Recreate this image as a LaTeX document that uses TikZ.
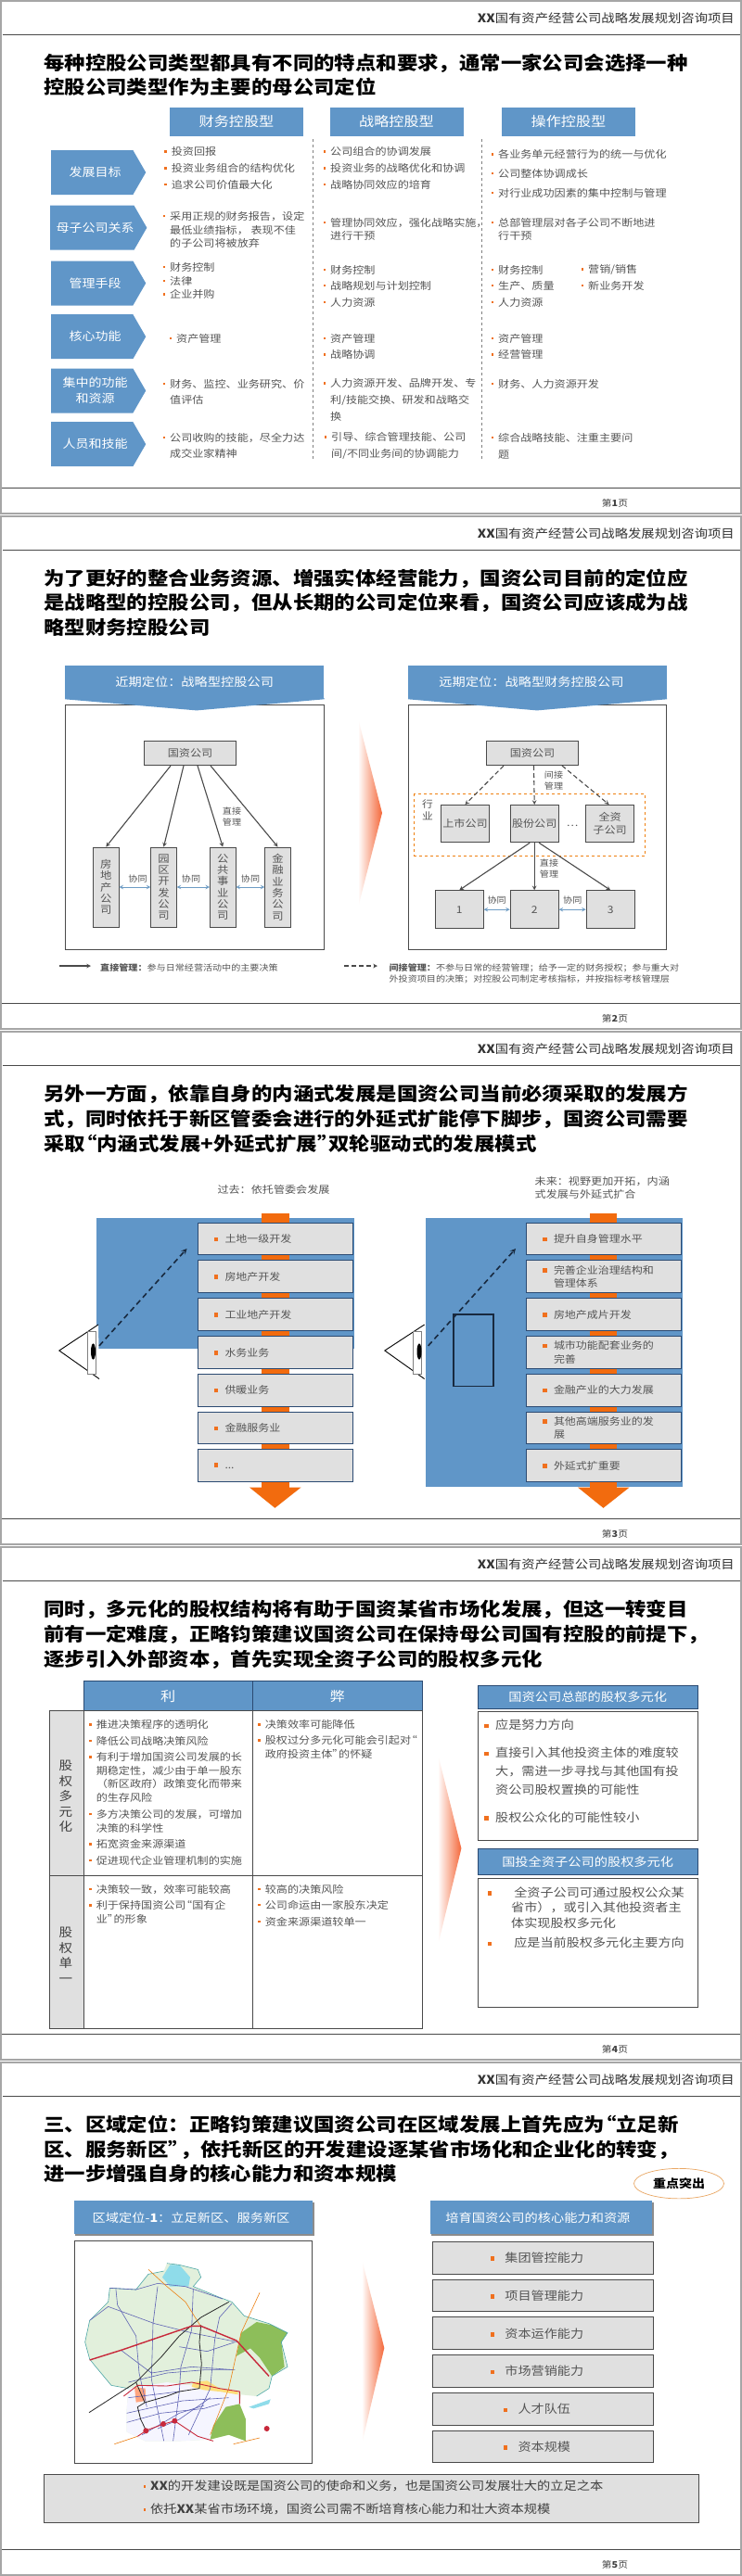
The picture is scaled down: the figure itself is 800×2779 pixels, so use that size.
\documentclass[tikz,border=0pt]{standalone}
\usepackage{fontspec}
\setmainfont{Noto Sans CJK SC}[FakeStretch=1.12]
\usetikzlibrary{shapes.symbols,shapes.geometric}

\definecolor{slideblue}{HTML}{6096C8}
\definecolor{slidenavy}{HTML}{2B4A72}
\definecolor{slidegray}{HTML}{E0E0E0}
\definecolor{framegray}{HTML}{A6A6A6}
\definecolor{bodygray}{HTML}{555555}
\definecolor{linegray}{HTML}{4A4A4A}
\definecolor{bulorange}{HTML}{F0701E}
\definecolor{barorange}{HTML}{F26B0E}
\definecolor{tipred}{HTML}{F4683A}
\definecolor{syncblue}{HTML}{6E9CC4}
\definecolor{mapgreen}{HTML}{E2F0DC}
\definecolor{mapforest}{HTML}{8DBE5A}
\definecolor{mapwater}{HTML}{8FDCEA}
\definecolor{mapred}{HTML}{C8283A}
\definecolor{maproad}{HTML}{5F63B4}

\newcommand{\bul}{\leavevmode\llap{\textcolor{bulorange}{\rule[3pt]{2.5pt}{2.5pt}}\hspace{5pt}}}
\newcommand{\bigbul}[1][7.5pt]{\leavevmode\llap{\textcolor{bulorange}{\rule[1.5pt]{4.5pt}{4.5pt}}\hspace{#1}}}
\newcommand{\lqt}{\hspace{-.5em}“}
\newcommand{\rqt}{”\hspace{-.5em}}
\newcommand{\chevpad}{\hspace{6.4pt}}

\tikzset{
  titletext/.style={anchor=north west,inner sep=0,align=left,text=black,font=\bfseries\fontsize{20}{26.8}\selectfont},
  headtext/.style={anchor=east,inner sep=0,text=black!80,font=\fontsize{12.8}{15}\selectfont},
  pagetext/.style={inner sep=0,text=black!75,font=\fontsize{9.6}{12}\selectfont},
  rulerline/.style={draw=linegray,line width=.8pt},
  frameline/.style={draw=framegray,line width=1.5pt},
  itemtext/.style={anchor=west,inner sep=0,align=left,text=bodygray,font=\fontsize{10.8}{14.7}\selectfont},
  bigitem/.style={anchor=west,inner sep=0,align=left,text=bodygray,font=\fontsize{12.6}{20}\selectfont},
  smalltext/.style={inner sep=0,align=center,text=bodygray,font=\fontsize{9}{12.3}\selectfont},
  bluehead/.style={fill=slideblue,inner sep=0,align=center,text=white,font=\fontsize{14.4}{17}\selectfont},
  bluebar/.style={bluehead,font=\fontsize{12.7}{15}\selectfont},
  chevbox/.style={shape=signal,signal to=east,signal pointer angle=120,fill=slideblue,inner sep=0,outer sep=0,
    minimum width=102pt,minimum height=48pt,align=center,text=white,font=\fontsize{12.5}{17}\selectfont},
  unitbox/.style={draw=linegray,fill=slidegray,line width=.8pt,inner sep=0,align=center,text=bodygray,font=\fontsize{10.8}{14}\selectfont},
  tallbox/.style={unitbox,minimum width=27.5pt,minimum height=86pt,font=\fontsize{11}{12.3}\selectfont},
  midbox/.style={unitbox,minimum width=52pt,minimum height=40.5pt},
  plainbox/.style={draw=linegray,line width=.8pt},
  listbox/.style={draw=slidenavy,fill=slidegray,line width=1pt,inner ysep=0,inner xsep=29.5pt,text width=108pt,align=left,
    minimum height=34.7pt,text=bodygray,font=\fontsize{10.7}{14.7}\selectfont},
  centerbox/.style={draw=linegray,fill=slidegray,line width=.8pt,inner sep=0,minimum width=237.7pt,minimum height=34.7pt,
    text=bodygray,font=\fontsize{12.6}{15}\selectfont},
  solidarrow/.style={-stealth,draw=linegray,line width=1.1pt},
  dasharrow/.style={-stealth,draw=linegray,line width=1.1pt,dash pattern=on 5pt off 3pt},
  syncarrow/.style={stealth-stealth,draw=syncblue,line width=1pt},
  viewarrow/.style={-stealth,draw=slidenavy!55!black,line width=1.6pt,dash pattern=on 6pt off 4pt},
  fadetip/.style={left color=white,right color=tipred},
  eyeline/.style={draw=black,line width=.9pt},
  tablebox/.style={draw=linegray,line width=.9pt},
  maplane/.style={draw=maproad,line width=.6pt},
  mapmain/.style={draw=mapred,line width=.9pt},
  maprail/.style={draw=black!85,line width=.8pt},
}

\newcommand{\slidebase}[1]{%
  \draw[frameline] (1,1) rectangle (799,554);
  \draw[rulerline] (3,37) -- (798,37);
  \draw[rulerline] (2,526) -- (798,526);
  \node[headtext] (head#1) at (792,19.6) {\textbf{XX}国有资产经营公司战略发展规划咨询项目};
  \node[pagetext] (page#1) at (663,543) {第\textbf{#1}页};
}

\begin{document}
\begin{tikzpicture}[x=1pt,y=-1pt]
  \useasboundingbox (0,0) rectangle (800,2779);
  \fill[white] (0,0) rectangle (800,2779);

  % page 1
  \begin{scope}
    \slidebase{1}
    \node[titletext] (t1) at (47,57.5) {每种控股公司类型都具有不同的特点和要求，通常一家公司会选择一种\\控股公司类型作为主要的母公司定位};
    \node[bluehead,minimum width=144pt,minimum height=31pt] (c1) at (255,131.5) {财务控股型};
    \node[bluehead,minimum width=144pt,minimum height=31pt] (c2) at (427.5,131.5) {战略控股型};
    \node[bluehead,minimum width=144pt,minimum height=31pt] (c3) at (613,131.5) {操作控股型};
    \draw[gray,dashed,line width=.6pt] (337,150) -- (337,497);
    \draw[gray,dashed,line width=.6pt] (519.5,150) -- (519.5,497);
    \node[chevbox] (r1) at (99.3,186) {\chevpad 发展目标};
    \node[chevbox] (r2) at (99.3,245.7) {\chevpad 母子公司关系};
    \node[chevbox] (r3) at (99.3,305.5) {\chevpad 管理手段};
    \node[chevbox] (r4) at (99.3,363.2) {\chevpad 核心功能};
    \node[chevbox] (r5) at (99.3,421.5) {\chevpad 集中的功能\\\chevpad 和资源};
    \node[chevbox] (r6) at (99.3,479.2) {\chevpad 人员和技能};
    \node[itemtext] (a11) at (184.7,163.6) {\bul 投资回报};
    \node[itemtext] (a12) at (184.7,181.4) {\bul 投资业务组合的结构优化};
    \node[itemtext] (a13) at (184.7,199) {\bul 追求公司价值最大化};
    \node[itemtext] (a21) at (183,248) {\bul 采用正规的财务报告，设定\\最低业绩指标， 表现不佳\\的子公司将被放弃};
    \node[itemtext] (a31) at (183,288) {\bul 财务控制};
    \node[itemtext] (a32) at (183,303) {\bul 法律};
    \node[itemtext] (a33) at (183,317.5) {\bul 企业并购};
    \node[itemtext] (a41) at (190,365) {\bul 资产管理};
    \node[itemtext] (a51) at (183,423) {\bul 财务、监控、业务研究、价\\[3pt]值评估};
    \node[itemtext] (a61) at (183,481) {\bul 公司收购的技能，尽全力达\\[3pt]成交业家精神};
    \node[itemtext] (b11) at (356,163.6) {\bul 公司组合的协调发展};
    \node[itemtext] (b12) at (356,181.4) {\bul 投资业务的战略优化和协调};
    \node[itemtext] (b13) at (356,199) {\bul 战略协同效应的培育};
    \node[itemtext] (b21) at (356,247.5) {\bul 管理协同效应，强化战略实施，\\进行干预};
    \node[itemtext] (b31) at (356,291) {\bul 财务控制};
    \node[itemtext] (b32) at (356,308) {\bul 战略规划与计划控制};
    \node[itemtext] (b33) at (356,326) {\bul 人力资源};
    \node[itemtext] (b41) at (356,365) {\bul 资产管理};
    \node[itemtext] (b42) at (356,382.5) {\bul 战略协调};
    \node[itemtext] (b51) at (356,431.5) {\bul 人力资源开发、品牌开发、专\\[3pt]利/技能交换、研发和战略交\\[3pt]换};
    \node[itemtext] (b61) at (357,481) {\bul 引导、综合管理技能、公司\\[3pt]间/不同业务间的协调能力};
    \node[itemtext] (d11) at (537,166.4) {\bul 各业务单元经营行为的统一与优化};
    \node[itemtext] (d12) at (537,187) {\bul 公司整体协调成长};
    \node[itemtext] (d13) at (537,208) {\bul 对行业成功因素的集中控制与管理};
    \node[itemtext] (d21) at (537,247.5) {\bul 总部管理层对各子公司不断地进\\行干预};
    \node[itemtext] (d31) at (537,291) {\bul 财务控制};
    \node[itemtext] (d32) at (537,308) {\bul 生产、质量};
    \node[itemtext] (d33) at (537,326) {\bul 人力资源};
    \node[itemtext] (d34) at (634,291) {\bul 营销/销售};
    \node[itemtext] (d35) at (634,308) {\bul 新业务开发};
    \node[itemtext] (d41) at (537,365) {\bul 资产管理};
    \node[itemtext] (d42) at (537,382.5) {\bul 经营管理};
    \node[itemtext] (d51) at (537,414) {\bul 财务、人力资源开发};
    \node[itemtext] (d61) at (537,481) {\bul 综合战略技能、注重主要问\\[3pt]题};
  \end{scope}

  % page 2
  \begin{scope}[shift={(0,556)}]
    \slidebase{2}
    \node[titletext] (t2) at (47,57.5) {为了更好的整合业务资源、增强实体经营能力，国资公司目前的定位应\\是战略型的控股公司，但从长期的公司定位来看，国资公司应该成为战\\略型财务控股公司};
    \draw[plainbox] (70,204.7) rectangle (349.5,468.3);
    \draw[plainbox] (440,204.7) rectangle (718.4,468.3);
    \fill[slideblue] (70,197) -- (349.5,197) -- (349.5,198.3) -- (212,210.4) -- (70,198.3) -- cycle;
    \fill[slideblue] (440,197) -- (719,197) -- (719,198.3) -- (579,210.4) -- (440,198.3) -- cycle;
    \node[bluebar,minimum width=279.5pt,minimum height=36pt] (h1) at (209.7,180) {近期定位：战略型控股公司};
    \node[bluebar,minimum width=279pt,minimum height=36pt] (h2) at (579.5,180) {\hspace{-13pt}远期定位：战略型财务控股公司};
    \shade[fadetip] (386,219) -- (412,321) -- (386,423) -- cycle;

    \node[unitbox,minimum width=99pt,minimum height=26.7pt] (g1) at (205,256.3) {国资公司};
    \node[tallbox] (f1) at (114.3,401) {房\\地\\产\\公\\司};
    \node[tallbox] (f2) at (176.5,401) {园\\区\\开\\发\\公\\司};
    \node[tallbox] (f3) at (240.2,401) {公\\共\\事\\业\\公\\司};
    \node[tallbox] (f4) at (299.5,401) {金\\融\\业\\务\\公\\司};
    \draw[solidarrow] ([xshift=-21pt]g1.south) -- (f1.north);
    \draw[solidarrow] ([xshift=-7pt]g1.south) -- (f2.north);
    \draw[solidarrow] ([xshift=8pt]g1.south) -- (f3.north);
    \draw[solidarrow] ([xshift=22pt]g1.south) -- (f4.north);
    \draw[syncarrow] (f1) -- (f2);
    \draw[syncarrow] (f2) -- (f3);
    \draw[syncarrow] (f3) -- (f4);
    \node[smalltext] (s1) at (148.5,392) {协同};
    \node[smalltext] (s2) at (206,392) {协同};
    \node[smalltext] (s3) at (270,392) {协同};
    \node[smalltext] (m1) at (250,325) {直接\\管理};

    \node[unitbox,minimum width=99pt,minimum height=26.7pt] (g2) at (574,256.3) {国资公司};
    \draw[orange!75!brown,dashed,line width=.7pt] (446.4,300.4) rectangle (695.4,367);
    \node[smalltext,font=\fontsize{10.5}{13}\selectfont] (m2) at (461,317.6) {行\\业};
    \node[midbox] (k1) at (501.5,332.6) {上市公司};
    \node[midbox] (k2) at (576.2,332.6) {股份公司};
    \node[midbox] (k3) at (657.6,332.6) {全资\\子公司};
    \node[smalltext,font=\fontsize{10.5}{13}\selectfont] (k4) at (617,335) {…};
    \node[midbox,minimum height=41pt] (n1) at (495.2,425.2) {1};
    \node[midbox,minimum height=41pt] (n2) at (576.2,425.2) {2};
    \node[midbox,minimum height=41pt] (n3) at (658.2,425.2) {3};
    \draw[dasharrow] ([xshift=-31pt]g2.south) -- (k1.north);
    \draw[dasharrow] ([xshift=1.5pt]g2.south) -- (k2.north);
    \draw[dasharrow] ([xshift=32pt]g2.south) -- ([xshift=-1pt]k3.north);
    \draw[solidarrow] ([xshift=-5pt]k2.south) -- (n1.north);
    \draw[solidarrow] (k2.south) -- (n2.north);
    \draw[solidarrow] ([xshift=5pt]k2.south) -- (n3.north);
    \draw[syncarrow] (n1) -- (n2);
    \draw[syncarrow] (n2) -- (n3);
    \node[smalltext] (s4) at (535.7,415.4) {协同};
    \node[smalltext] (s5) at (617.3,415.4) {协同};
    \node[smalltext] (m3) at (597,286) {间接\\管理};
    \node[smalltext] (m4) at (592,381) {直接\\管理};

    \coordinate (l1) at (64,486);
    \coordinate (l2) at (98,486);
    \coordinate (l3) at (371,486);
    \coordinate (l4) at (407,486);
    \draw[solidarrow] (l1) -- (l2);
    \draw[dasharrow] (l3) -- (l4);
    \node[smalltext,anchor=west,align=left] (e1) at (108,488) {\textbf{直接管理：}参与日常经营活动中的主要决策};
    \node[smalltext,anchor=west,align=left] (e2) at (419.4,494.2) {\textbf{间接管理：}不参与日常的经营管理；给予一定的财务授权；参与重大对\\外投资项目的决策；对控股公司制定考核指标，并按指标考核管理层};
  \end{scope}

  % page 3
  \begin{scope}[shift={(0,1112)}]
    \slidebase{3}
    \node[titletext] (t3) at (47,58) {另外一方面，依靠自身的内涵式发展是国资公司当前必须采取的发展方\\式，同时依托于新区管委会进行的外延式扩能停下脚步，国资公司需要\\采取\lqt 内涵式发展+外延式扩展\rqt 双轮驱动式的发展模式};
    \node[itemtext,anchor=center] (p1) at (295,171) {过去：依托管委会发展};
    \node[itemtext] (p2) at (576.5,169.5) {未来：视野更加开拓，内涵\\式发展与外延式扩合};
    \fill[slideblue] (104,202) rectangle (381.6,343.4);
    \fill[slideblue] (458.7,202) rectangle (736,491.6);
    \fill[barorange] (281.6,197) rectangle (311.7,493);
    \fill[barorange] (635.7,197) rectangle (665.3,493);
    \fill[barorange] (269,492.6) -- (324.5,492.6) -- (296.4,514.8) -- cycle;
    \fill[barorange] (623,492.6) -- (678.6,492.6) -- (650.5,514.8) -- cycle;
    \node[listbox] (u1) at (296.5,224.6) {\bigbul 土地一级开发};
    \node[listbox] (u2) at (296.5,265.3) {\bigbul 房地产开发};
    \node[listbox] (u3) at (296.5,306) {\bigbul 工业地产开发};
    \node[listbox] (u4) at (296.5,347.1) {\bigbul 水务业务};
    \node[listbox] (u5) at (296.5,387.8) {\bigbul 供暖业务};
    \node[listbox] (u6) at (296.5,428.5) {\bigbul 金融服务业};
    \node[listbox] (u7) at (296.5,469.3) {\bigbul ...};
    \node[listbox] (v1) at (651,224.6) {\bigbul 提升自身管理水平};
    \node[listbox] (v2) at (651,265.3) {\bigbul 完善企业治理结构和\\管理体系};
    \node[listbox] (v3) at (651,306) {\bigbul 房地产成片开发};
    \node[listbox] (v4) at (651,347.1) {\bigbul 城市功能配套业务的\\完善};
    \node[listbox] (v5) at (651,387.8) {\bigbul 金融产业的大力发展};
    \node[listbox] (v6) at (651,428.5) {\bigbul 其他高端服务业的发\\展};
    \node[listbox] (v7) at (651,469.3) {\bigbul 外延式扩重要};
    % eye on the left
    \fill[white] (63.8,345) -- (106,317) -- (107,375.5) -- cycle;
    \draw[eyeline] (106,317) -- (63.8,345) -- (107,375.5);
    \draw[gray,fill=white,line width=.5pt] (94.4,324) rectangle (103.6,370);
    \fill[black] (100.5,346) ellipse (2.5 and 8.6);
    \coordinate (w1) at (107,339.8);
    \coordinate (w2) at (201.5,235);
    \draw[viewarrow] (w1) -- (w2);
    % eye on the right
    \fill[white] (414.8,345) -- (457.6,317) -- (457.6,375.5) -- cycle;
    \draw[eyeline] (457.6,317) -- (414.8,345) -- (457.6,375.5);
    \draw[gray,fill=white,line width=.5pt] (445,324) rectangle (454,370);
    \fill[black] (452,346) ellipse (2.5 and 8.6);
    \coordinate (w3) at (461.7,339.8);
    \coordinate (w4) at (556,235);
    \draw[viewarrow] (w3) -- (w4);
    \draw[slidenavy!55!black,line width=1.8pt] (488.8,306) rectangle (532,383.4);
  \end{scope}

  % page 4
  \begin{scope}[shift={(0,1668)}]
    \slidebase{4}
    \node[titletext] (t4) at (47,58) {同时，多元化的股权结构将有助于国资某省市场化发展，但这一转变目\\前有一定难度，正略钧策建议国资公司在保持母公司国有控股的前提下，\\逐步引入外部资本，首先实现全资子公司的股权多元化};
    \node[bluehead,draw=slidenavy,line width=.9pt,minimum width=182.4pt,minimum height=32pt] (w5) at (181.2,161.6) {利};
    \node[bluehead,draw=slidenavy,line width=.9pt,minimum width=182.6pt,minimum height=32pt] (w6) at (363.7,161.6) {弊};
    \fill[slidegray] (53,177.7) rectangle (90,520.6);
    \draw[tablebox] (53,177.7) rectangle (455,520.6);
    \draw[tablebox] (90,177.7) -- (90,520.6);
    \draw[tablebox] (272.4,177.7) -- (272.4,520.6);
    \draw[tablebox] (53,355.2) -- (455,355.2);
    \node[smalltext,text=black!75,font=\fontsize{13}{16.4}\selectfont] (y1) at (71,270) {股\\权\\多\\元\\化};
    \node[smalltext,text=black!75,font=\fontsize{13}{16.4}\selectfont] (y2) at (71,441.3) {股\\权\\单\\一};
    \node[itemtext] (q1) at (103.6,192.4) {\bul 推进决策程序的透明化};
    \node[itemtext] (q2) at (103.6,210) {\bul 降低公司战略决策风险};
    \node[itemtext] (q3) at (103.6,249.5) {\bul 有利于增加国资公司发展的长\\期稳定性，减少由于单一股东\\（新区政府）政策变化而带来\\的生存风险};
    \node[itemtext] (q4) at (103.6,296.5) {\bul 多方决策公司的发展，可增加\\决策的科学性};
    \node[itemtext] (q5) at (103.6,321.6) {\bul 拓宽资金来源渠道};
    \node[itemtext] (q6) at (103.6,339) {\bul 促进现代企业管理机制的实施};
    \node[itemtext] (q7) at (103.6,370) {\bul 决策较一致，效率可能较高};
    \node[itemtext] (q8) at (103.6,395) {\bul 利于保持国资公司\lqt 国有企\\业\rqt 的形象};
    \node[itemtext] (z1) at (285.7,192.4) {\bul 决策效率可能降低};
    \node[itemtext] (z2) at (285.7,217) {\bul 股权过分多元化可能会引起对\lqt\\政府投资主体\rqt 的怀疑};
    \node[itemtext] (z3) at (285.7,370) {\bul 较高的决策风险};
    \node[itemtext] (z4) at (285.7,387.3) {\bul 公司命运由一家股东决定};
    \node[itemtext] (z5) at (285.7,405.2) {\bul 资金来源渠道较单一};
    \shade[fadetip] (472,224) -- (497.4,326) -- (472,431) -- cycle;
    \node[bluebar,draw=slidenavy,line width=.9pt,minimum width=237.5pt,minimum height=25pt] (x1) at (633.7,163.1) {国资公司总部的股权多元化};
    \draw[plainbox] (515,178.8) rectangle (752.5,317.4);
    \node[bigitem] (o1) at (534,192.7) {\bigbul 应是努力方向};
    \node[bigitem] (o2) at (534,242.7) {\bigbul 直接引入其他投资主体的难度较\\大，需进一步寻找与其他国有投\\资公司股权置换的可能性};
    \node[bigitem] (o3) at (534,292.4) {\bigbul 股权公众化的可能性较小};
    \node[bluebar,draw=slidenavy,line width=.9pt,minimum width=237.5pt,minimum height=27.4pt] (x2) at (633.7,340.3) {国投全资子公司的股权多元化};
    \draw[plainbox] (515,358.8) rectangle (752.5,497.7);
    \node[bigitem,font=\fontsize{12.6}{16.8}\selectfont] (o4) at (551,390) {\bigbul[21pt] 全资子公司可通过股权公众某\\省市），或引入其他投资者主\\体实现股权多元化};
    \node[bigitem] (o5) at (551,427.7) {\bigbul[21pt] 应是当前股权多元化主要方向};
  \end{scope}

  % page 5
  \begin{scope}[shift={(0,2224)}]
    \slidebase{5}
    \node[titletext] (t5) at (47,57.5) {三、区域定位：正略钧策建议国资公司在区域发展上首先应为\lqt 立足新\\区、服务新区\rqt ，依托新区的开发建设逐某省市场化和企业化的转变，\\进一步增强自身的核心能力和资本规模};
    \node[draw=orange!50!brown!70,fill=white,line width=.7pt,shape=ellipse,minimum width=97pt,minimum height=32.5pt,inner sep=0,font=\bfseries\fontsize{12.5}{15}\selectfont] (em) at (732,131.6) {重点突出};
    \fill[black!45] (81,152) rectangle (338.5,187.5);
    \fill[black!45] (465,152) rectangle (704.5,187.5);
    \node[bluebar,minimum width=257.2pt,minimum height=35.6pt] (h3) at (208.6,168.2) {\hspace{-5pt}区域定位-\textbf{1}：立足新区、服务新区};
    \node[bluebar,minimum width=239.2pt,minimum height=35.6pt] (h4) at (583.4,168.2) {\hspace{-7pt}培育国资公司的核心能力和资源};
    \draw[plainbox,fill=white] (80,193.2) rectangle (336.7,433.6);
    % map
    \begin{scope}[shift={(80,196)},x=.3333pt,y=-.3333pt]
      \fill[mapgreen] (300,65) -- (340,70) -- (400,85) -- (410,110) -- (385,140) -- (470,175) -- (510,190) -- (550,235) -- (630,260) -- (690,290) -- (670,320) -- (690,400) -- (640,430) -- (630,470) -- (590,495) -- (540,490) -- (535,520) -- (555,570) -- (555,640) -- (500,620) -- (440,635) -- (340,640) -- (230,640) -- (170,610) -- (170,540) -- (175,470) -- (120,460) -- (70,400) -- (50,375) -- (35,320) -- (50,250) -- (110,190) -- (115,145) -- (200,150) -- (240,100) -- (290,90) -- cycle;
      \fill[blue!4!white] (175,470) -- (300,450) -- (530,480) -- (535,520) -- (470,590) -- (440,635) -- (340,640) -- (230,640) -- (170,610) -- (170,540) -- cycle;
      \fill[mapwater] (310,70) -- (340,70) -- (375,110) -- (370,140) -- (310,140) -- (285,110) -- cycle;
      \fill[mapforest] (540,290) -- (590,255) -- (640,265) -- (690,290) -- (670,320) -- (680,400) -- (640,430) -- (600,370) -- (570,340) -- (525,365) -- cycle;
      \fill[mapforest] (490,530) -- (535,520) -- (555,570) -- (555,640) -- (500,620) -- (440,635) -- (450,590) -- cycle;
      \fill[mapwater] (565,530) -- (635,505) -- (630,520) -- (580,535) -- cycle;
      \fill[yellow!55!orange!50] (385,450) -- (430,445) -- (470,470) -- (530,480) -- (530,490) -- (470,480) -- (420,475) -- (380,465) -- cycle;
      \fill[red!40!orange!50] (195,465) -- (230,470) -- (232,510) -- (200,515) -- cycle;
      \draw[teal!70,line width=.6pt] (300,65) -- (340,70) -- (400,85) -- (410,110) -- (385,140) -- (470,175) -- (510,190) -- (550,235) -- (630,260) -- (690,290) -- (670,320) -- (690,400) -- (640,430) -- (630,470) -- (590,495);
      \draw[teal!70,line width=.6pt] (175,470) -- (120,460) -- (70,400) -- (50,375) -- (35,320) -- (50,250) -- (110,190) -- (115,145) -- (200,150) -- (240,100) -- (290,90);
      \draw[maplane] (50,250) -- (110,205) -- (260,260) -- (380,290) -- (530,320);
      \draw[maplane] (135,150) -- (140,200) -- (200,300) -- (210,420) -- (235,530);
      \draw[maplane] (270,140) -- (255,260) -- (250,440) -- (290,640);
      \draw[maplane] (385,150) -- (380,280) -- (345,400) -- (340,480) -- (320,640);
      \draw[maplane] (510,195) -- (470,240) -- (455,310) -- (440,470) -- (370,620);
      \draw[maplane] (115,145) -- (200,150) -- (270,130) -- (360,140) -- (480,180);
      \draw[maplane] (150,345) -- (250,420) -- (380,400) -- (520,410);
      \draw[maplane] (340,335) -- (430,350) -- (520,320);
      \draw[maplane] (175,450) -- (300,420) -- (420,410) -- (510,410);
      \draw[maplane] (175,500) -- (340,480);
      \draw[maplane] (170,550) -- (350,510) -- (500,500);
      \draw[maplane] (170,580) -- (280,550) -- (420,535) -- (470,520);
      \draw[maplane] (220,620) -- (340,550) -- (420,525);
      \draw[maplane] (270,600) -- (340,570) -- (440,500);
      \draw[orange!70!brown,line width=.6pt] (240,85) -- (300,140) -- (360,190) -- (410,270);
      \draw[orange!70!brown,line width=.6pt] (600,160) -- (540,290) -- (500,470) -- (440,620);
      \draw[orange!70!brown,line width=.6pt] (130,650) -- (205,625);
      \draw[orange!70!brown,line width=.6pt] (515,650) -- (600,630);
      \draw[maprail] (48,548) -- (200,450) -- (280,370) -- (340,300) -- (410,240) -- (500,190);
      \draw[maprail] (410,265) -- (405,320) -- (412,390) -- (405,470) -- (340,480) -- (300,495) -- (230,515) -- (205,530) -- (215,570) -- (232,605);
      \draw[maprail] (200,450) -- (228,515);
      \draw[mapmain,line width=1.4pt] (50,378) -- (155,345) -- (380,268) -- (410,268) -- (525,315) -- (630,430);
      \draw[mapmain] (160,495) -- (205,460) -- (300,462) -- (380,450) -- (470,470) -- (535,480) -- (535,520);
      \draw[mapmain] (205,625) -- (235,605) -- (290,585) -- (325,575) -- (400,625) -- (450,640);
      \fill[mapred] (232,607) circle (9);
      \fill[mapred] (288,585) circle (9);
      \fill[mapred] (325,575) circle (9);
      \fill[mapred] (623,600) circle (9);
    \end{scope}
    \shade[fadetip] (390,213) -- (414.3,309) -- (390,413) -- cycle;
    \node[centerbox] (j1) at (585.2,211.6) {\bigbul[8pt] 集团管控能力};
    \node[centerbox] (j2) at (585.2,252.3) {\bigbul[8pt] 项目管理能力};
    \node[centerbox] (j3) at (585.2,293.2) {\bigbul[8pt] 资本运作能力};
    \node[centerbox] (j4) at (585.2,334.1) {\bigbul[8pt] 市场营销能力};
    \node[centerbox] (j5) at (585.2,374.8) {\bigbul[8pt] 人才队伍};
    \node[centerbox] (j6) at (585.2,415.5) {\bigbul[8pt] 资本规模};
    \draw[plainbox,fill=slidegray] (47,445.4) rectangle (753.6,497.5);
    \node[anchor=west,inner sep=0,text=black!75,font=\fontsize{12.7}{15}\selectfont] (i1) at (162,458) {\bul\textbf{XX}的开发建设既是国资公司的使命和义务，也是国资公司发展壮大的立足之本};
    \node[anchor=west,inner sep=0,text=black!75,font=\fontsize{12.7}{15}\selectfont] (i2) at (162,483) {\bul 依托\textbf{XX}某省市场环境，国资公司需不断培育核心能力和壮大资本规模};
  \end{scope}
\end{tikzpicture}
\end{document}
